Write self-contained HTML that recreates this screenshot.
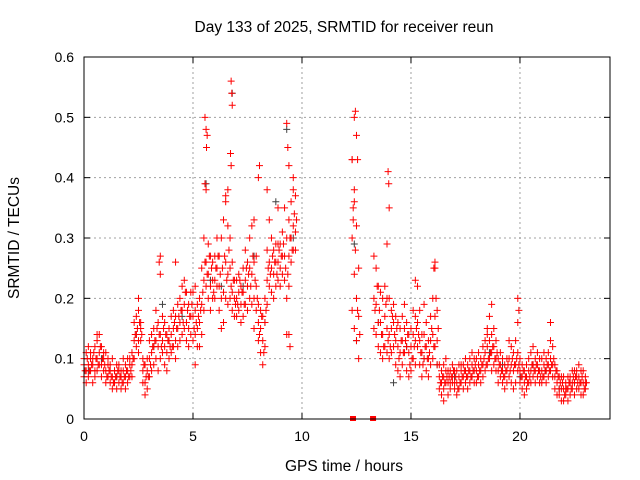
<!DOCTYPE html>
<html><head><meta charset="utf-8"><style>
html,body{margin:0;padding:0;background:#fff;}
svg{display:block;font-family:"Liberation Sans",sans-serif;}
</style></head><body>
<svg id="chart" width="640" height="480" viewBox="0 0 640 480" xmlns="http://www.w3.org/2000/svg">
<rect width="640" height="480" fill="#fff"/>
<text x="344" y="32" font-size="15.5" text-anchor="middle">Day 133 of 2025, SRMTID for receiver reun</text>
<text x="344" y="471" font-size="15.5" text-anchor="middle">GPS time / hours</text>
<text transform="translate(19,238) rotate(-90)" font-size="15.5" text-anchor="middle">SRMTID / TECUs</text>
<g id="grid"></g><g id="ticks"></g><g id="marks"></g>
<rect x="84" y="57" width="526" height="362" fill="none" stroke="#000" stroke-width="1"/>
</svg>
<script>
const xTicks=[0,5,10,15,20];
const yTicks=[0,0.1,0.2,0.3,0.4,0.5,0.6];
const yTickLabels=["0","0.1","0.2","0.3","0.4","0.5","0.6"];
const startHour=0, stepHour=0.1;
const _=null;
const tecLow=[.07,.06,.07,.08,.06,.07,.08,.09,.07,.08, .06,.07,.06,.05,.06,.05,.06,.05,.06,.05, .06,.07,.07,.10,.12,.11,.13,.06,.04,.05, .07,.08,.09,.10,.08,.10,.11,.09,.08,.10, .11,.12,.10,.12,.13,.14,.15,.13,.12,.14, .13,.14,.12,.12,.14,.18,.22,.20,.18,.20, .20,.22,.18,.15,.16,.20,.19,.20,.18,.17, .17,.18,.16,.17,.19,.18,.20,.19,.15,.18, .13,.11,.09,.12,.19,.22,.21,.20,.22,.23, .22,.24,.23,.14,.22,.26,.28,.28,_,_, _,_,_,_,_,_,_,_,_,_, _,_,_,_,_,_,_,_,_,_, _,_,_,.18,.15,.13,.10,_,_,_, _,_,_,.15,.14,.12,.11,.10,.12,.11, .10,.11,.12,.09,.08,.07,.09,.11,.08,.07, .08,.10,.09,.12,.09,.07,.10,.08,.07,.09, .10,.12,.09,.05,.04,.05,.06,.04,.05,.06, .05,.04,.05,.06,.05,.06,.05,.06,.07,.06, .06,.07,.06,.07,.08,.09,.10,.08,.09,.08, .06,.07,.06,.05,.06,.07,.06,.05,.06,.08, .06,.05,.04,.05,.06,.06,.07,.06,.07,.06, .06,.07,.06,.07,.08,.07,.05,.04,.04,.03, .03,.04,.03,.04,.05,.04,.05,.05,.04,.04, .05];
const tecMid=[.09,.08,.09,.10,.09,.08,.10,.11,.09,.10, .08,.09,.08,.07,.08,.07,.08,.07,.08,.07, .08,.09,.09,.13,.14,.13,.15,.08,.06,.08, .10,.11,.12,.13,.12,.14,.13,.12,.11,.13, .14,.15,.13,.15,.16,.18,.19,.16,.15,.17, .17,.18,.15,.16,.19,.23,.26,.24,.22,.23, .23,.25,.22,.20,.21,.26,.24,.25,.21,.20, .20,.21,.19,.21,.23,.22,.25,.24,.20,.22, .16,.15,.13,.16,.23,.26,.25,.24,.26,.26, .25,.27,.27,.20,.27,.30,.32,.31,_,_, _,_,_,_,_,_,_,_,_,_, _,_,_,_,_,_,_,_,_,_, _,_,_,.30,.24,.20,.17,_,_,_, _,_,_,.20,.19,.16,.16,.14,.17,.15, .14,.15,.16,.13,.12,.11,.13,.15,.12,.11, .12,.14,.13,.16,.13,.11,.14,.12,.10,.13, .14,.17,.13,.07,.06,.07,.08,.06,.06,.07, .06,.06,.07,.08,.07,.08,.07,.08,.09,.08, .08,.09,.08,.09,.11,.12,.13,.11,.12,.10, .08,.09,.08,.07,.08,.10,.09,.08,.09,.11, .08,.07,.06,.07,.08,.08,.09,.08,.09,.08, .08,.09,.08,.09,.10,.09,.07,.06,.05,.05, .05,.05,.05,.06,.06,.06,.07,.07,.06,.06, .06];
const tecHigh=[.10,.11,.12,.11,.10,.12,.13,.14,.12,.11, .11,.10,.09,.10,.08,.09,.09,.08,.10,.09, .10,.10,.11,.16,.17,.18,.16,.10,.09,.10, .13,.14,.15,.18,.16,.24,.17,.16,.14,.15, .17,.18,.17,.19,.20,.22,.23,.21,.19,.21, .21,.22,.19,.20,.25,.30,.38,.29,.27,.26, .27,.30,.27,.30,.33,.37,.32,.30,.26,.23, .23,.24,.22,.25,.28,.26,.30,.32,.26,.27, .19,.18,.17,.20,.28,.33,.30,.28,.29,.29, .29,.31,.35,.30,.33,.36,.38,.37,_,_, _,_,_,_,_,_,_,_,_,_, _,_,_,_,_,_,_,_,_,_, _,_,_,.43,.38,.32,.25,_,_,_, _,_,_,.27,.25,.22,.21,.20,.22,.20, .20,.18,.19,.17,.16,.15,.17,.19,.16,.14, .15,.18,.17,.22,.18,.14,.19,.16,.13,.17, .20,.25,.18,.09,.08,.09,.10,.08,.08,.09, .08,.08,.09,.09,.09,.10,.09,.10,.11,.10, .10,.11,.10,.12,.13,.15,.17,.14,.15,.13, .10,.11,.10,.09,.10,.13,.12,.11,.13,.16, .10,.09,.08,.09,.10,.11,.12,.10,.11,.10, .10,.11,.10,.11,.13,.12,.09,.08,.07,.07, .07,.06,.07,.07,.08,.08,.08,.09,.08,.08, .07];
const tecExtra=[.08,.10,.08,.09,.11,.10,.09,.12,.10,.09, .07,.08,.07,.06,.07,.08,.07,.06,.07,.08, .07,.08,.10,.14,.15,.16,.14,.09,.07,.07, .09,.12,.13,.15,.14,.12,.15,.14,.13,.12, .12,.16,.15,.17,.18,.16,.21,.18,.17,.19, .15,.16,.17,.18,.21,.26,.24,.27,.25,.21, .25,.27,.24,.25,.27,.23,.28,.22,.23,.19, .19,.23,.21,.19,.25,.24,.22,.27,.23,.20, .14,.17,.11,.18,.25,.24,.27,.26,.24,.28, .27,.29,.25,.24,.30,.28,.34,.33,_,_, _,_,_,_,_,_,_,_,_,_, _,_,_,_,_,_,_,_,_,_, _,_,_,.35,.28,.18,.14,_,_,_, _,_,_,.18,.22,.18,.14,.12,.19,.13, .12,.17,.14,.15,.10,.13,.11,.13,.14,.09, .10,.12,.15,.14,.11,.09,.12,.10,.11,.15, .12,.20,.15,.06,.07,.06,.07,.07,.07,.08, .07,.05,.06,.07,.08,.07,.08,.07,.08,.09, .07,.08,.09,.10,.09,.10,.11,.12,.10,.11, .09,.08,.07,.08,.09,.08,.10,.09,.10,.09, .07,.08,.07,.06,.07,.09,.08,.09,.08,.07, .07,.08,.09,.08,.09,.10,.08,.07,.06,.06, .04,.05,.06,.05,.07,.07,.06,.06,.07,.05, .06];
const outlierHours=[5.55,5.6,5.62,5.65,5.55,6.75,6.78,6.8,6.72,6.75,6.6,6.5,3.5,3.45,4.2,8.05,8.0,8.4,9.3,9.35,9.4,9.45,9.4,12.3,12.4,12.45,12.5,12.55,12.4,12.35,13.95,13.98,14.0,13.9,16.1,16.05,18.7,19.9,19.95,21.4,2.5,7.8,8.9,9.6,5.1,0.6,15.2,16.5,18.5];
const outlierValues=[.50,.48,.45,.47,.39,.56,.54,.52,.44,.42,.38,.36,.27,.26,.26,.42,.40,.38,.49,.45,.42,.12,.14,.43,.50,.51,.47,.43,.36,.33,.41,.39,.35,.29,.26,.25,.19,.20,.18,.16,.20,.33,.35,.40,.09,.14,.23,.03,.14];
const greyHours=[0.2,0.8,1.5,2.4,3.2,3.6,4.5,5.6,5.8,6.3,6.8,7.3,7.8,8.3,8.8,9.3,9.6,12.4,12.5,13.5,14.2,14.8,15.6,16.2,17.0,17.8,18.6,19.2,20.0,20.6,21.2,21.8,22.5];
const greyValues=[.08,.10,.07,.14,.12,.19,.17,.39,.23,.22,.54,.22,.27,.16,.36,.48,.30,.29,.13,.16,.06,.12,.10,.09,.07,.07,.11,.09,.07,.09,.08,.05,.06];
const gapHours=[12.34,13.26];

const NS="http://www.w3.org/2000/svg";
const L=84,R=610,T=57,B=419,XMAX=24.13,YMAX=0.6;
function xs(h){return L+(h/XMAX)*(R-L);}
function ys(v){return B-(v/YMAX)*(B-T);}
function mk(tag,attrs,parent){const e=document.createElementNS(NS,tag);for(const k in attrs)e.setAttribute(k,attrs[k]);parent.appendChild(e);return e;}
const grid=document.getElementById('grid'),ticks=document.getElementById('ticks'),marks=document.getElementById('marks');
yTicks.forEach((v,i)=>{
  const y=ys(v);
  if(v>0&&v<YMAX){const g=mk('line',{x1:L,x2:R,y1:y,y2:y,stroke:'#a0a0a0','stroke-dasharray':'2,3'},grid);
  
  }
  mk('line',{x1:L,x2:L+6,y1:y,y2:y,stroke:'#000'},ticks);
  mk('line',{x1:R-6,x2:R,y1:y,y2:y,stroke:'#000'},ticks);
  const t=mk('text',{x:L-10,y:y+5,'font-size':14,'text-anchor':'end'},ticks);t.textContent=yTickLabels[i];
  
  
});
xTicks.forEach(h=>{
  const x=xs(h);
  if(h>0){const g=mk('line',{x1:x,x2:x,y1:T,y2:B,stroke:'#a0a0a0','stroke-dasharray':'2,3'},grid);
  
  }
  mk('line',{x1:x,x2:x,y1:B,y2:B-6,stroke:'#000'},ticks);
  mk('line',{x1:x,x2:x,y1:T,y2:T+6,stroke:'#000'},ticks);
  const t=mk('text',{x:x,y:B+22,'font-size':14,'text-anchor':'middle'},ticks);t.textContent=String(h);
  
  
});
function cross(h,v,color,name){
  const x=xs(h),y=ys(v);
  const p=mk('path',{d:`M${x-3.5},${y}h7M${x},${y-3.5}v7`,stroke:color,'stroke-width':1,fill:'none'},marks);
  
  
}
greyHours.forEach((h,i)=>cross(h,greyValues[i],'#404040','grey-point'));
[tecLow,tecMid,tecHigh].forEach(arr=>arr.forEach((v,i)=>{if(v!==null)cross(startHour+i*stepHour,v,'#ff0000','srmtid-point');}));
tecExtra.forEach((v,i)=>{if(v!==null)cross(startHour+(i+0.5)*stepHour,v,'#ff0000','srmtid-point');});
outlierHours.forEach((h,i)=>cross(h,outlierValues[i],'#ff0000','srmtid-outlier'));
gapHours.forEach(h=>{
  const r=mk('rect',{x:xs(h)-3,y:B-3,width:6,height:5,fill:'#ff0000'},marks);
  
  
});
</script>
</body></html>
